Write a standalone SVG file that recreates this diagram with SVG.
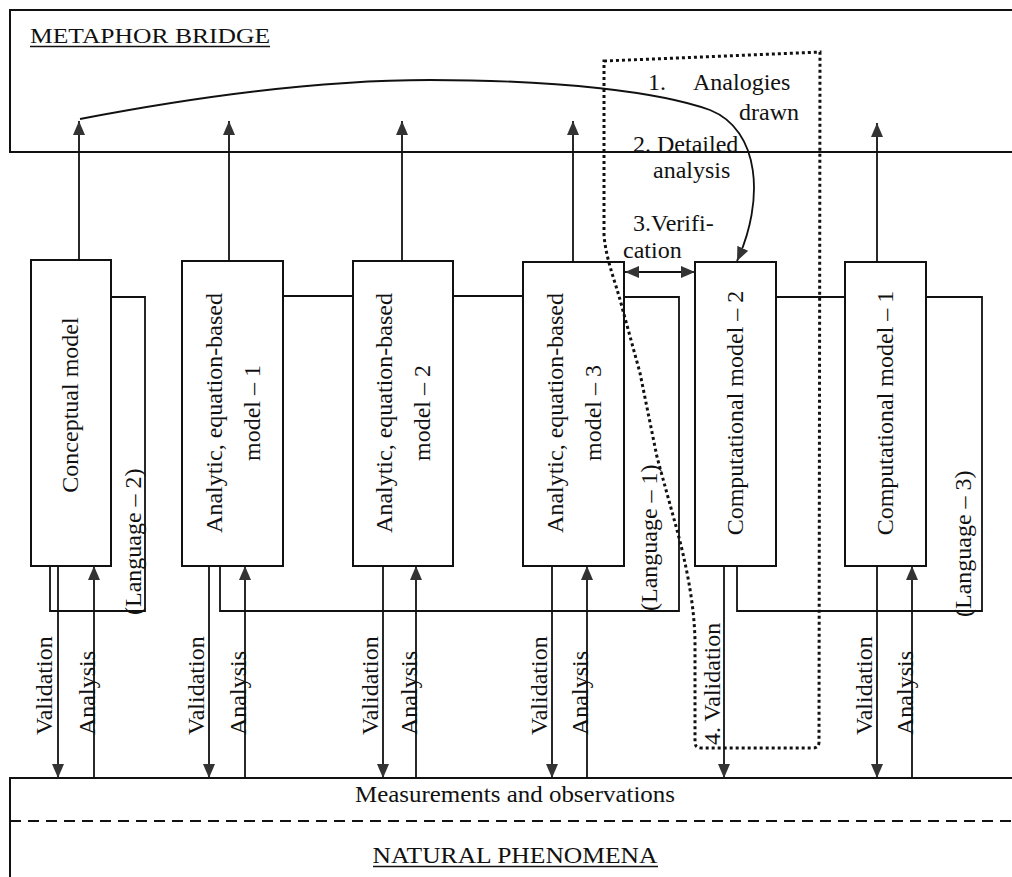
<svg xmlns="http://www.w3.org/2000/svg" width="1012" height="877" viewBox="0 0 1012 877">
<defs>
<marker id="ah" viewBox="0 0 14 12" refX="14" refY="6" markerWidth="14" markerHeight="12" markerUnits="userSpaceOnUse" orient="auto-start-reverse">
<path d="M0,0 L14,6 L0,12 Z" fill="#333"/>
</marker>
<style>
text{font-family:"Liberation Serif","Times New Roman",serif;fill:#111;}
.box{fill:#fff;stroke:#111;stroke-width:2;}
.ln{fill:none;stroke:#111;stroke-width:1.8;}
.arr{fill:none;stroke:#111;stroke-width:1.8;marker-end:url(#ah);}
.lbl{font-size:24px;}
.va{font-size:24px;}
.note{font-size:24px;}
</style>
</defs>
<rect width="1012" height="877" fill="#fff"/>

<g id="metaphor-bridge">
<rect class="box" x="10" y="10" width="1010" height="142"/>
<text x="30" y="43" font-size="22" textLength="240" lengthAdjust="spacingAndGlyphs">METAPHOR BRIDGE</text>
<line x1="30" y1="46.5" x2="270" y2="46.5" stroke="#111" stroke-width="1.3"/>
</g>

<g id="natural-phenomena">
<rect class="box" x="10" y="778" width="1010" height="110"/>
<line x1="10" y1="821" x2="1012" y2="821" stroke="#111" stroke-width="2" stroke-dasharray="11 7"/>
<text x="515" y="802" text-anchor="middle" font-size="24" textLength="320" lengthAdjust="spacingAndGlyphs">Measurements and observations</text>
<text x="515" y="863" text-anchor="middle" font-size="24" textLength="285" lengthAdjust="spacingAndGlyphs">NATURAL PHENOMENA</text>
<line x1="373" y1="866.5" x2="658" y2="866.5" stroke="#111" stroke-width="1.3"/>
</g>

<g id="conceptual-model">
<rect class="box" x="31" y="260" width="80" height="306"/>
<text class="lbl" transform="translate(78,405) rotate(-90)" text-anchor="middle">Conceptual model</text>
</g>
<g id="analytic-model-1">
<rect class="box" x="182" y="261" width="101" height="305"/>
<text class="lbl" transform="translate(222,413) rotate(-90)" text-anchor="middle">Analytic, equation-based</text>
<text class="lbl" transform="translate(260,413) rotate(-90)" text-anchor="middle">model – 1</text>
</g>
<g id="analytic-model-2">
<rect class="box" x="353" y="261" width="100" height="305"/>
<text class="lbl" transform="translate(392,413) rotate(-90)" text-anchor="middle">Analytic, equation-based</text>
<text class="lbl" transform="translate(430,413) rotate(-90)" text-anchor="middle">model – 2</text>
</g>
<g id="analytic-model-3">
<rect class="box" x="523" y="262" width="101" height="304"/>
<text class="lbl" transform="translate(563,413) rotate(-90)" text-anchor="middle">Analytic, equation-based</text>
<text class="lbl" transform="translate(601,413) rotate(-90)" text-anchor="middle">model – 3</text>
</g>
<g id="computational-model-2">
<rect class="box" x="695" y="262" width="81" height="304"/>
<text class="lbl" transform="translate(743,413) rotate(-90)" text-anchor="middle">Computational model – 2</text>
</g>
<g id="computational-model-1">
<rect class="box" x="845" y="262" width="81" height="304"/>
<text class="lbl" transform="translate(893,413) rotate(-90)" text-anchor="middle">Computational model – 1</text>
</g>

<g id="connectors">
<path class="ln" d="M111,297 H145 V611 H50 V566"/>
<path class="ln" d="M283,296 H353"/>
<path class="ln" d="M453,296 H523"/>
<path class="ln" d="M220,566 V611 H679 V297 H624"/>
<path class="ln" d="M776,297 H845"/>
<path class="ln" d="M926,297 H982 V611 H737 V566"/>
<line class="arr" x1="79" y1="260" x2="79" y2="121"/>
<line class="arr" x1="229" y1="261" x2="229" y2="121"/>
<line class="arr" x1="402" y1="261" x2="402" y2="121"/>
<line class="arr" x1="573" y1="262" x2="573" y2="121"/>
<line class="arr" x1="877" y1="262" x2="877" y2="123"/>
<path class="arr" d="M80,119 C200,96 320,80 430,80 C560,80 660,92 710,110 C760,130 765,200 737,261"/>
<line class="arr" x1="625" y1="272" x2="695" y2="272" style="marker-start:url(#ah)"/>
<line class="arr" x1="58" y1="566" x2="58" y2="778"/>
<line class="arr" x1="209" y1="566" x2="209" y2="778"/>
<line class="arr" x1="383" y1="566" x2="383" y2="778"/>
<line class="arr" x1="552" y1="566" x2="552" y2="778"/>
<line class="arr" x1="724" y1="566" x2="724" y2="778"/>
<line class="arr" x1="877" y1="566" x2="877" y2="778"/>
<line class="arr" x1="94" y1="778" x2="94" y2="566"/>
<line class="arr" x1="245" y1="778" x2="245" y2="566"/>
<line class="arr" x1="416" y1="778" x2="416" y2="566"/>
<line class="arr" x1="587" y1="778" x2="587" y2="566"/>
<line class="arr" x1="912" y1="778" x2="912" y2="566"/>
<path d="M604,61 L820,52 L819,742 Q819,748 813,748 L701,748 Q695,748 695,742 L695,640 C694,600 685,560 677,530 L657,457 L640,373 L622,307 C615,280 606,260 604,235 Z" fill="none" stroke="#111" stroke-width="3" stroke-dasharray="3 3"/>
</g>

<g id="labels">
<text class="va" transform="translate(141,615) rotate(-90)">(Language – 2)</text>
<text class="va" transform="translate(657,611) rotate(-90)">(Language – 1)</text>
<text class="va" transform="translate(971,617) rotate(-90)">(Language – 3)</text>
<text class="va" transform="translate(52,735) rotate(-90)">Validation</text>
<text class="va" transform="translate(95,735) rotate(-90)">Analysis</text>
<text class="va" transform="translate(204,735) rotate(-90)">Validation</text>
<text class="va" transform="translate(246,735) rotate(-90)">Analysis</text>
<text class="va" transform="translate(378,735) rotate(-90)">Validation</text>
<text class="va" transform="translate(417,735) rotate(-90)">Analysis</text>
<text class="va" transform="translate(547,735) rotate(-90)">Validation</text>
<text class="va" transform="translate(588,735) rotate(-90)">Analysis</text>
<text class="va" transform="translate(720,745) rotate(-90)">4. Validation</text>
<text class="va" transform="translate(872,735) rotate(-90)">Validation</text>
<text class="va" transform="translate(913,735) rotate(-90)">Analysis</text>
<text class="note" x="648" y="90">1.</text>
<text class="note" x="693" y="90">Analogies</text>
<text class="note" x="799" y="120" text-anchor="end">drawn</text>
<text class="note" x="633" y="152">2. Detailed</text>
<text class="note" x="653" y="178">analysis</text>
<text class="note" x="633" y="231">3.Verifi-</text>
<text class="note" x="623" y="258">cation</text>
</g>
</svg>
